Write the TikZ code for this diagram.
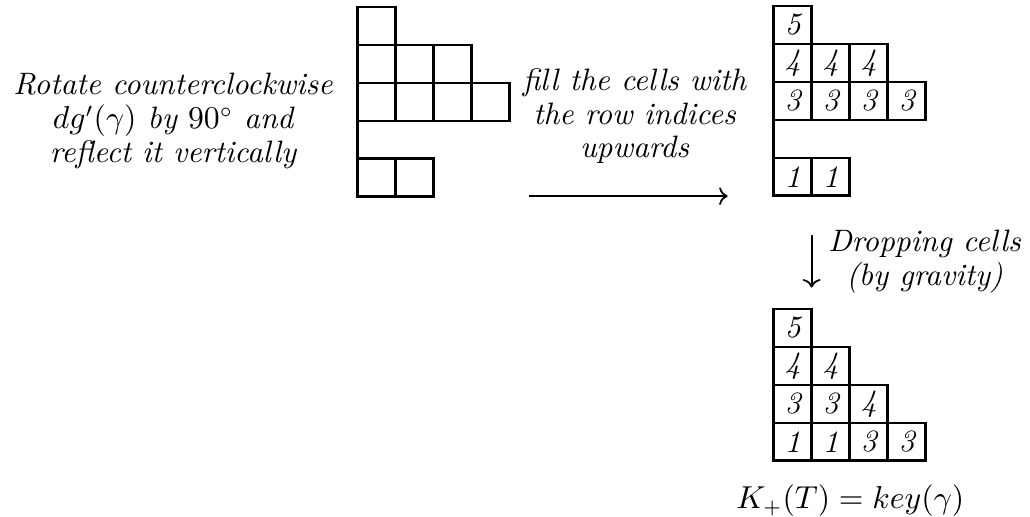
\documentclass[tikz,border=0pt]{standalone}
\usepackage{tikz}
\usetikzlibrary{arrows.meta, positioning}

\begin{document}
\begin{tikzpicture}[
	every node/.style={font=\fontsize{10.7}{11.7}\selectfont\itshape},
	cell/.style={rectangle, draw, line width=1pt, minimum size=0.461cm, inner sep=0pt, outer sep=0pt, anchor=north west},
	label/.style={align=center},
	arrow/.style={semithick, ->}
	]
	\useasboundingbox (0,0) rectangle (12.5,-6.27);
	
	% Shape of dg'(gamma), rotated and reflected
	\begin{scope}[shift={(4.34,-0.085)}, x=0.461cm, y=-0.461cm]
		\foreach \c/\r in {0/0, 0/1,1/1,2/1, 0/2,1/2,2/2,3/2, 0/4,1/4}
			\node[cell] (a-\r-\c) at (\c,\r) {};
		\draw[line width=1pt] (a-2-0.south west) -- (a-4-0.north west);
	\end{scope}
	
	% Filled with row indices
	\begin{scope}[shift={(9.39,-0.073)}, x=0.461cm, y=-0.461cm]
		\foreach \c/\r/\t in {0/0/5, 0/1/4,1/1/4,2/1/4, 0/2/3,1/2/3,2/2/3,3/2/3, 0/4/1,1/4/1}
			\node[cell] (b-\r-\c) at (\c,\r) {\t};
		\draw[line width=1pt] (b-2-0.south west) -- (b-4-0.north west);
	\end{scope}
	
	% After dropping
	\begin{scope}[shift={(9.39,-3.75)}, x=0.461cm, y=-0.461cm]
		\foreach \c/\r/\t in {0/0/5, 0/1/4,1/1/4, 0/2/3,1/2/3,2/2/4, 0/3/1,1/3/1,2/3/3,3/3/3}
			\node[cell] (c-\r-\c) at (\c,\r) {\t};
	\end{scope}
	
	% Labels
	\node[label] (rotate) at (2.10,-1.47) {Rotate counterclockwise\\ $dg'(\gamma)$ by $90^\circ$ and\\ reflect it vertically};
	\node[label] (fill) at (7.70,-1.41) {fill the cells with\\ the row indices\\ upwards};
	\node[label] (drop) at (11.22,-3.17) {Dropping cells\\ (by gravity)};
	\node[label] (key) at (10.32,-6.08) {$K_+(T) = key(\gamma)$};
	
	% Arrows
	\coordinate (h-start) at (6.42,-2.38);
	\coordinate (h-end) at (8.83,-2.38);
	\coordinate (v-start) at (9.85,-2.85);
	\coordinate (v-end) at (9.85,-3.49);
	\draw[arrow] (h-start) -- (h-end);
	\draw[arrow] (v-start) -- (v-end);
\end{tikzpicture}
\end{document}
